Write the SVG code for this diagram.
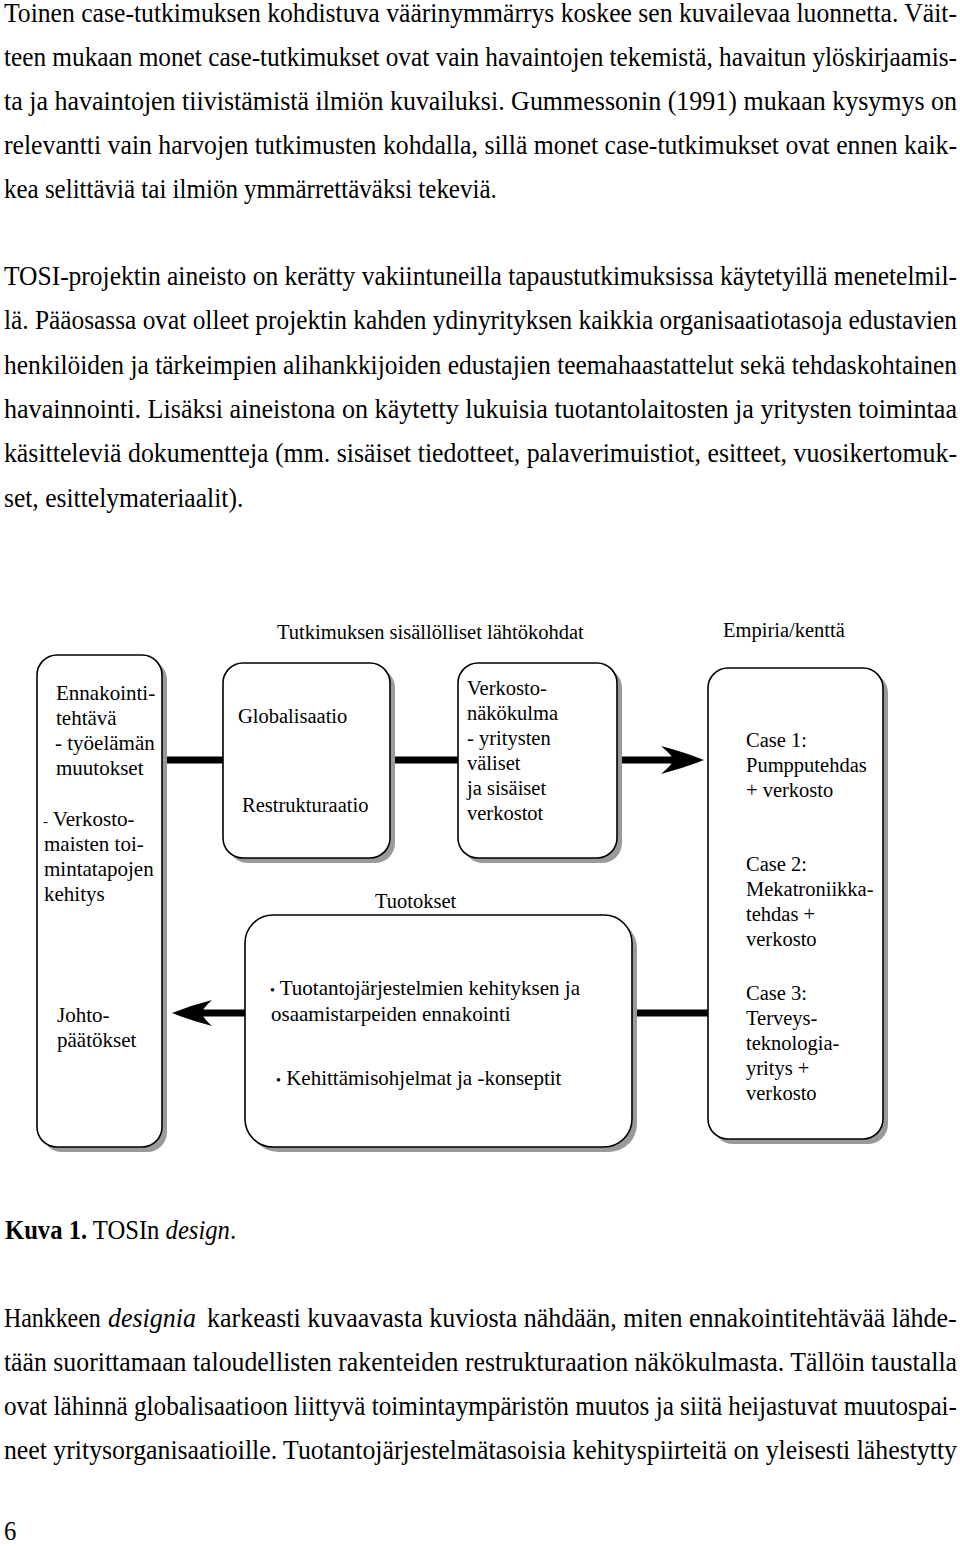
<svg xmlns="http://www.w3.org/2000/svg" width="960" height="1547" viewBox="0 0 960 1547">
<style>
.body{font-family:"Liberation Serif",serif;font-size:28px;fill:#000}
.d{font-family:"Liberation Serif",serif;font-size:20.5px;fill:#000}
.d2{font-family:"Liberation Serif",serif;font-size:21px;fill:#000}
.box{fill:#fff;stroke:#000;stroke-width:1.6}
.sh{fill:#9a9a9a}
.ln{stroke:#000;stroke-width:7;fill:none}
.ah{fill:#000}
</style>
<rect x="0" y="0" width="960" height="1547" fill="#fff"/>
<g id="para1" transform="scale(0.88,1)">
<text class="body" x="4.5" y="22" textLength="1083" lengthAdjust="spacingAndGlyphs">Toinen case-tutkimuksen kohdistuva väärinymmärrys koskee sen kuvailevaa luonnetta. Väit-</text>
<text class="body" x="4.5" y="66" textLength="1083" lengthAdjust="spacingAndGlyphs">teen mukaan monet case-tutkimukset ovat vain havaintojen tekemistä, havaitun ylöskirjaamis-</text>
<text class="body" x="4.5" y="110" textLength="1083" lengthAdjust="spacingAndGlyphs">ta ja havaintojen tiivistämistä ilmiön kuvailuksi. Gummessonin (1991) mukaan kysymys on</text>
<text class="body" x="4.5" y="154" textLength="1083" lengthAdjust="spacingAndGlyphs">relevantti vain harvojen tutkimusten kohdalla, sillä monet case-tutkimukset ovat ennen kaik-</text>
<text class="body" x="4.5" y="198" textLength="560" lengthAdjust="spacingAndGlyphs">kea selittäviä tai ilmiön ymmärrettäväksi tekeviä.</text>
</g>
<g id="para2" transform="scale(0.88,1)">
<text class="body" x="4.5" y="285" textLength="1083" lengthAdjust="spacingAndGlyphs">TOSI-projektin aineisto on kerätty vakiintuneilla tapaustutkimuksissa käytetyillä menetelmil-</text>
<text class="body" x="4.5" y="329" textLength="1083" lengthAdjust="spacingAndGlyphs">lä. Pääosassa ovat olleet projektin kahden ydinyrityksen kaikkia organisaatiotasoja edustavien</text>
<text class="body" x="4.5" y="374" textLength="1083" lengthAdjust="spacingAndGlyphs">henkilöiden ja tärkeimpien alihankkijoiden edustajien teemahaastattelut sekä tehdaskohtainen</text>
<text class="body" x="4.5" y="418" textLength="1083" lengthAdjust="spacingAndGlyphs">havainnointi. Lisäksi aineistona on käytetty lukuisia tuotantolaitosten ja yritysten toimintaa</text>
<text class="body" x="4.5" y="462" textLength="1083" lengthAdjust="spacingAndGlyphs">käsitteleviä dokumentteja (mm. sisäiset tiedotteet, palaverimuistiot, esitteet, vuosikertomuk-</text>
<text class="body" x="4.5" y="507" textLength="272" lengthAdjust="spacingAndGlyphs">set, esittelymateriaalit).</text>
</g>
<g id="headers">
<text class="d" x="277" y="639" font-size="21.2">Tutkimuksen sisällölliset lähtökohdat</text>
<text class="d" x="723" y="637" font-size="21">Empiria/kenttä</text>
</g>
<g id="connectors">
<line class="ln" x1="166" y1="760" x2="224" y2="760"/>
<line class="ln" x1="394" y1="760" x2="459" y2="760"/>
<line class="ln" x1="621" y1="760" x2="675" y2="760"/>
<path class="ah" d="M704,760 Q684,752 661,746 Q673,756 673,760 Q673,764 661,774 Q684,768 704,760 Z"/>
<line class="ln" x1="246" y1="1013" x2="200" y2="1013"/>
<path class="ah" d="M172,1013 Q192,1005 212,1000 Q202,1009 202,1013 Q202,1017 212,1026 Q192,1021 172,1013 Z"/>
<line class="ln" x1="636" y1="1013" x2="709" y2="1013"/>
</g>
<g id="node-ennakointi">
<rect class="sh" x="42" y="660" width="125" height="492" rx="20"/>
<rect class="box" x="37" y="655" width="125" height="492" rx="20"/>
<text class="d2" x="56" y="700">Ennakointi-</text>
<text class="d2" x="56" y="725">tehtävä</text>
<text class="d2" x="55" y="750">- työelämän</text>
<text class="d2" x="56" y="775">muutokset</text>
<text class="d2" x="43" y="826"><tspan font-size="15">-</tspan> Verkosto-</text>
<text class="d2" x="44" y="851">maisten toi-</text>
<text class="d2" x="44" y="876">mintatapojen</text>
<text class="d2" x="44" y="901">kehitys</text>
<text class="d2" x="57" y="1022">Johto-</text>
<text class="d2" x="57" y="1047">päätökset</text>
</g>
<g id="node-globalisaatio">
<rect class="sh" x="228" y="668" width="167" height="195" rx="20"/>
<rect class="box" x="223" y="663" width="167" height="195" rx="20"/>
<text class="d" x="238" y="723">Globalisaatio</text>
<text class="d" x="242" y="812">Restrukturaatio</text>
</g>
<g id="node-verkosto">
<rect class="sh" x="463" y="668" width="159" height="195" rx="20"/>
<rect class="box" x="458" y="663" width="159" height="195" rx="20"/>
<text class="d" x="467" y="695">Verkosto-</text>
<text class="d" x="467" y="720">näkökulma</text>
<text class="d" x="467" y="745">- yritysten</text>
<text class="d" x="467" y="770">väliset</text>
<text class="d" x="467" y="795">ja sisäiset</text>
<text class="d" x="467" y="820">verkostot</text>
</g>
<g id="node-cases">
<rect class="sh" x="713" y="673" width="175" height="471" rx="20"/>
<rect class="box" x="708" y="668" width="175" height="471" rx="20"/>
<text class="d" x="746" y="747">Case 1:</text>
<text class="d" x="746" y="772">Pumpputehdas</text>
<text class="d" x="746" y="797">+ verkosto</text>
<text class="d" x="746" y="871">Case 2:</text>
<text class="d" x="746" y="896">Mekatroniikka-</text>
<text class="d" x="746" y="921">tehdas +</text>
<text class="d" x="746" y="946">verkosto</text>
<text class="d" x="746" y="1000">Case 3:</text>
<text class="d" x="746" y="1025">Terveys-</text>
<text class="d" x="746" y="1050">teknologia-</text>
<text class="d" x="746" y="1075">yritys +</text>
<text class="d" x="746" y="1100">verkosto</text>
</g>
<g id="node-tuotokset">
<text class="d" x="375" y="908">Tuotokset</text>
<rect class="sh" x="250" y="920" width="387" height="232" rx="28"/>
<rect class="box" x="245" y="915" width="387" height="232" rx="28"/>
<text class="d2" x="270" y="995"><tspan font-size="14">•</tspan> Tuotantojärjestelmien kehityksen ja</text>
<text class="d2" x="271" y="1021">osaamistarpeiden ennakointi</text>
<text class="d2" x="276" y="1085"><tspan font-size="14">•</tspan> Kehittämisohjelmat ja -konseptit</text>
</g>
<g id="caption" transform="scale(0.88,1)">
<text class="body" x="5.7" y="1239"><tspan font-weight="bold">Kuva 1.</tspan> TOSIn <tspan font-style="italic">design</tspan>.</text>
</g>
<g id="para3" transform="scale(0.88,1)">
<text class="body" x="4.5" y="1327" textLength="110" lengthAdjust="spacingAndGlyphs">Hankkeen</text>
<text class="body" x="122.7" y="1327" textLength="100" lengthAdjust="spacingAndGlyphs" font-style="italic">designia</text>
<text class="body" x="235.2" y="1327" textLength="852" lengthAdjust="spacingAndGlyphs">karkeasti kuvaavasta kuviosta nähdään, miten ennakointitehtävää lähde-</text>
<text class="body" x="4.5" y="1371" textLength="1083" lengthAdjust="spacingAndGlyphs">tään suorittamaan taloudellisten rakenteiden restrukturaation näkökulmasta. Tällöin taustalla</text>
<text class="body" x="4.5" y="1415" textLength="1083" lengthAdjust="spacingAndGlyphs">ovat lähinnä globalisaatioon liittyvä toimintaympäristön muutos ja siitä heijastuvat muutospai-</text>
<text class="body" x="4.5" y="1459" textLength="1083" lengthAdjust="spacingAndGlyphs">neet yritysorganisaatioille. Tuotantojärjestelmätasoisia kehityspiirteitä on yleisesti lähestytty</text>
<text class="body" x="4.5" y="1540">6</text>
</g>
</svg>
